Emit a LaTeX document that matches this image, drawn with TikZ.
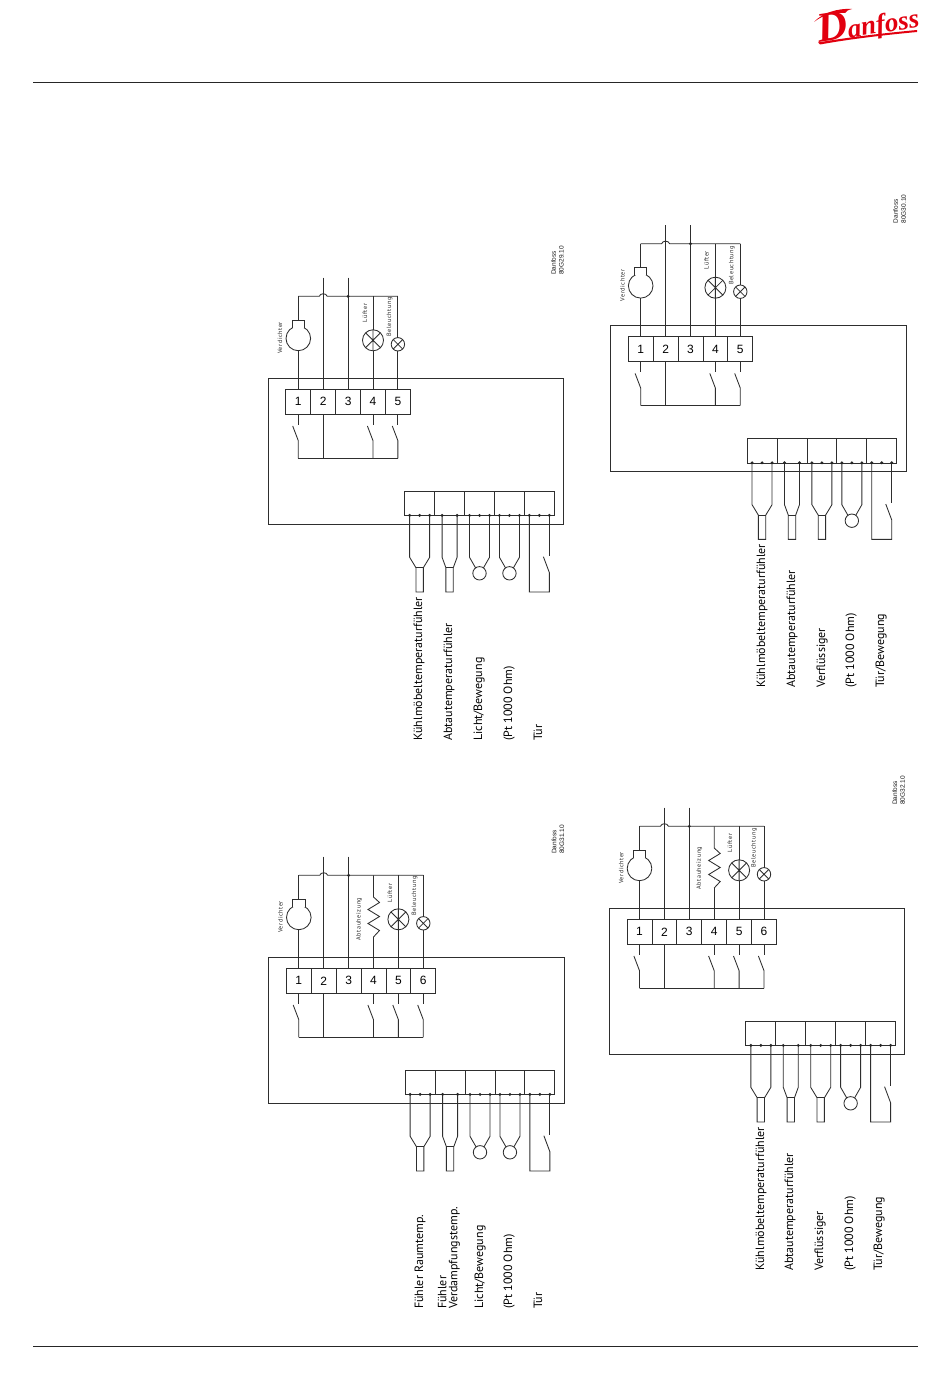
\documentclass[tikz,border=0pt]{standalone}
\usepackage{fontspec}
\setmainfont{PT Sans}
\newfontfamily\numf{Liberation Sans}
\newfontfamily\logof{Liberation Serif}
\newfontfamily\smallf[LetterSpace=9]{PT Sans}
\definecolor{wire}{gray}{0.18}
\definecolor{dfred}{HTML}{E2000F}
\tikzset{
  wl/.style={draw=wire,line width=0.85pt},
  frame/.style={draw=wire,line width=1pt,rectangle,minimum width=295.4pt,minimum height=145.7pt,inner sep=0,outer sep=0},
  term/.style={draw=wire,line width=0.85pt,fill=white,rectangle,minimum width=24.9pt,minimum height=25pt,inner sep=0,outer sep=0,font=\numf\fontsize{12}{13}\selectfont},
  cell/.style={draw=wire,line width=0.85pt,fill=white,rectangle,minimum width=29.93pt,minimum height=24.7pt,inner sep=0,outer sep=0},
  dotn/.style={circle,fill=black!85,draw=none,minimum size=3.2pt,inner sep=0,outer sep=0},
  comp/.style={draw=wire,line width=0.85pt,circle,minimum size=24.6pt,inner sep=0,outer sep=0},
  fan/.style={draw=wire,line width=0.85pt,circle,minimum size=21pt,inner sep=0,outer sep=0,
    path picture={\draw[wl] (path picture bounding box.north west)--(path picture bounding box.south east)
      (path picture bounding box.north east)--(path picture bounding box.south west)
      (path picture bounding box.north)--(path picture bounding box.south);}},
  lamp/.style={draw=wire,line width=0.85pt,circle,minimum size=13.4pt,inner sep=0,outer sep=0,
    path picture={\draw[wl] (path picture bounding box.north west)--(path picture bounding box.south east)
      (path picture bounding box.north east)--(path picture bounding box.south west);}},
  probe/.style={draw=wire,line width=0.85pt,circle,minimum size=13.4pt,inner sep=0,outer sep=0},
  tiny/.style={rotate=90,inner sep=0,text=black!85,font=\smallf\fontsize{6.2}{7}\selectfont},
  code/.style={rotate=90,anchor=west,inner sep=0,text=black!90,font=\numf\fontsize{6.5}{7}\selectfont},
  big/.style={rotate=90,anchor=west,inner sep=0,text height=8pt,text depth=2pt,text=black,font=\fontsize{12}{13}\selectfont},
}
\newcommand{\panelbase}[1]{%
  \node[frame] (box) at (416,451.2) {};
  \foreach \n in {1,...,#1}{
    \pgfmathsetmacro\tx{298.3+24.9*(\n-1)}
    \node[term] (t\n) at (\tx,401.8) {\n};
    \coordinate (bus\n) at (\tx,296.3);
    \coordinate (ret\n) at (\tx,458.3);
  }
  \coordinate (top2) at (bus2 |- 0,277.7);
  \coordinate (top3) at (bus3 |- 0,277.7);
  \draw[wl] (bus1) -- ([xshift=-4pt]bus2) .. controls ([xshift=-3pt,yshift=3.4pt]bus2) and ([xshift=3pt,yshift=3.4pt]bus2) .. ([xshift=4pt]bus2) -- (bus#1);
  \draw[wl] (top2) -- (t2.north);
  \draw[wl] (top3) -- (t3.north);
  \node[dotn] (jn) at (bus3) {};
  \draw[wl] (t2.south) -- (ret2);
  \draw[wl] (ret1) -- (ret#1);
  % compressor
  \node[comp] (c) at (298.3,338.4) {};
  \coordinate (neck) at (298.3,320);
  \draw[wl] (bus1) -- (neck);
  \draw[wl,fill=white] (c.120) -- ++(0,-7.8) -| (c.60);
  \draw[wl] (c.south) -- (t1.north);
  \node[tiny] (lv) at (280,338) {Verdichter};
  % lower block
  \foreach \k in {1,...,5}{
    \pgfmathsetmacro\cx{419.65+29.93*(\k-1)}
    \node[cell] (cell\k) at (\cx,503.3) {};
  }
  \foreach \k/\h in {1/10,2/7.5,3/10,4/10,5/10}{
    \pgfmathsetmacro\cx{419.65+29.93*(\k-1)}
    \coordinate (d\k l) at ({\cx-\h},515.4);
    \coordinate (d\k r) at ({\cx+\h},515.4);
  }
  % door switch
  \draw[wl] (d5l) -- (d5l |- 0,592) -- (d5r |- 0,592) -- (d5r |- 0,572.7) -- ([xshift=-6pt]d5r |- 0,556.7);
  \draw[wl] (d5r) -- (d5r |- 0,555.7);
}
\newcommand{\blockdots}{%
  \foreach \k/\h in {1/10,2/7.5,3/10,4/10,5/10}{
    \pgfmathsetmacro\cx{419.65+29.93*(\k-1)}
    \node[dotn] (e\k l) at (d\k l) {};
    \node[dotn] (e\k r) at (d\k r) {};
    \ifnum\k=2\else\node[dotn] (e\k m) at (\cx,515.4) {};\fi
  }
}
\newcommand{\swt}[1]{%
  \draw[wl] (t#1.south) -- (t#1 |- 0,425);
  \draw[wl] ([xshift=-5.6pt]t#1 |- 0,426) -- (t#1 |- 0,440.7) -- (ret#1);
}
\newcommand{\rectsensor}[1]{%
  \pgfmathsetmacro\cx{419.65+29.93*(#1-1)}
  \draw[wl] (d#1l) -- (d#1l |- 0,557.3) -- ({\cx-3.7},567.7) -- ({\cx-3.7},592) -- ({\cx+3.7},592) -- ({\cx+3.7},567.7) -- (d#1r |- 0,557.3) -- (d#1r);
  \draw[wl] ({\cx-3.7},567.7) -- ({\cx+3.7},567.7);
}
\newcommand{\circsensor}[1]{%
  \pgfmathsetmacro\cx{419.65+29.93*(#1-1)}
  \node[probe] (s#1) at (\cx,573.3) {};
  \draw[wl] (d#1l) -- (d#1l |- 0,557.3) -- (s#1.126);
  \draw[wl] (d#1r) -- (d#1r |- 0,557.3) -- (s#1.54);
}
\newcommand{\fanlamp}[2]{%
  \node[fan] (f) at (t#1 |- 0,340.3) {};
  \draw[wl] (bus#1) -- (f.north);
  \draw[wl] (f.south) -- (t#1.north);
  \node[lamp] (l) at (t#2 |- 0,344.3) {};
  \draw[wl] (bus#2) -- (l.north);
  \draw[wl] (l.south) -- (t#2.north);
}
\newcommand{\heater}{%
  \coordinate (ha) at (t4 |- 0,318);
  \coordinate (hb) at (t4 |- 0,358);
  \draw[wl] (bus4) -- (ha) -- ++(6,5.5) -- ++(-11.5,7) -- ++(11.5,7) -- ++(-11.5,7) -- ++(11.5,7) -- (hb);
  \draw[wl] (hb) -- (t4.north);
}
\begin{document}
\begin{tikzpicture}[x=1pt,y=-1pt]
\useasboundingbox (0,0) rectangle (950,1378);
\fill[white] (0,0) rectangle (950,1378);
\coordinate (hl) at (33,82.5); \coordinate (hr) at (917.5,82.5);
\coordinate (fl) at (33,1346); \coordinate (fr) at (917.5,1346);
\draw[line width=0.8pt,black!85] (hl) -- (hr);
\draw[line width=0.8pt,black!85] (fl) -- (fr);
% logo
\fill[dfred] (814,22) .. controls (822,13) and (838,8) .. (852,9) .. controls (848,10) and (846,11) .. (845,13) .. controls (836,12) and (824,14) .. (814,22) -- cycle;
\fill[dfred] (818,42.5) .. controls (850,37) and (885,33) .. (917,30) -- (917,32) .. controls (885,35) and (850,39) .. (820,44.5) -- cycle;
\node[rotate=9,inner sep=0,text=dfred,font=\logof\bfseries\itshape\fontsize{27}{30}\selectfont] (logo) at (868,24) {{\fontsize{42}{44}\selectfont D}anfoss};
% panel 1
\begin{scope}[name prefix=a-]
  \panelbase{5}
  \swt{1}\swt{4}\swt{5}
  \fanlamp{4}{5}
  \node[tiny] (l1) at (365,313) {Lüfter};
  \node[tiny] (l2) at (389.5,317) {Beleuchtung};
  \rectsensor{1}\rectsensor{2}\circsensor{3}\circsensor{4}
  \blockdots
\end{scope}
\node[code] (a-c1) at (553.5,275) {Danfoss};
\node[code] (a-c2) at (561.5,275) {80G29.10};
\node[big] (a-b1) at (419,741) {Kühlmöbeltemperaturfühler};
\node[big] (a-b2) at (449,741) {Abtautemperaturfühler};
\node[big] (a-b3) at (479,741) {Licht/Bewegung};
\node[big] (a-b4) at (509,741) {(Pt 1000 Ohm)};
\node[big] (a-b5) at (539,741) {Tür};
% panel 2
\begin{scope}[shift={(342.4,-52.6)},name prefix=b-]
  \panelbase{5}
  \swt{1}\swt{4}\swt{5}
  \fanlamp{4}{5}
  \node[tiny] (l1) at (364,313) {Lüfter};
  \node[tiny] (l2) at (389.5,318) {Beleuchtung};
  \rectsensor{1}\rectsensor{2}\rectsensor{3}\circsensor{4}
  \blockdots
\end{scope}
\node[code] (b-c1) at (895.5,223.5) {Danfoss};
\node[code] (b-c2) at (903.5,223.5) {80G30.10};
\node[big] (b-b1) at (762,688) {Kühlmöbeltemperaturfühler};
\node[big] (b-b2) at (792,688) {Abtautemperaturfühler};
\node[big] (b-b3) at (822,688) {Verflüssiger};
\node[big] (b-b4) at (851,688) {(Pt 1000 Ohm)};
\node[big] (b-b5) at (881,688) {Tür/Bewegung};
% panel 3
\begin{scope}[shift={(0.5,579)},name prefix=c-]
  \panelbase{6}
  \swt{1}\swt{4}\swt{5}\swt{6}
  \heater
  \fanlamp{5}{6}
  \node[tiny] (l0) at (358.5,340) {Abtauheizung};
  \node[tiny] (l1) at (389.5,314) {Lüfter};
  \node[tiny] (l2) at (414,317) {Beleuchtung};
  \rectsensor{1}\rectsensor{2}\circsensor{3}\circsensor{4}
  \blockdots
\end{scope}
\node[code] (c-c1) at (554,854) {Danfoss};
\node[code] (c-c2) at (562,854) {80G31.10};
\node[big] (c-b1) at (420,1309) {Fühler Raumtemp.};
\node[big,align=left,text height=,text depth=] (c-b2) at (449,1309) {Fühler\\[-2pt]Verdampfungstemp.};
\node[big] (c-b3) at (480,1309) {Licht/Bewegung};
\node[big] (c-b4) at (509,1309) {(Pt 1000 Ohm)};
\node[big] (c-b5) at (539,1309) {Tür};
% panel 4
\begin{scope}[shift={(341.2,530)},name prefix=d-]
  \panelbase{6}
  \swt{1}\swt{4}\swt{5}\swt{6}
  \heater
  \fanlamp{5}{6}
  \node[tiny] (l0) at (358,338) {Abtauheizung};
  \node[tiny] (l1) at (388.7,313) {Lüfter};
  \node[tiny] (l2) at (413,318) {Beleuchtung};
  \rectsensor{1}\rectsensor{2}\rectsensor{3}\circsensor{4}
  \blockdots
\end{scope}
\node[code] (d-c1) at (894.7,805) {Danfoss};
\node[code] (d-c2) at (902.5,805) {80G32.10};
\node[big] (d-b1) at (761,1271) {Kühlmöbeltemperaturfühler};
\node[big] (d-b2) at (790,1271) {Abtautemperaturfühler};
\node[big] (d-b3) at (820,1271) {Verflüssiger};
\node[big] (d-b4) at (850,1271) {(Pt 1000 Ohm)};
\node[big] (d-b5) at (879,1271) {Tür/Bewegung};
\end{tikzpicture}
\end{document}
